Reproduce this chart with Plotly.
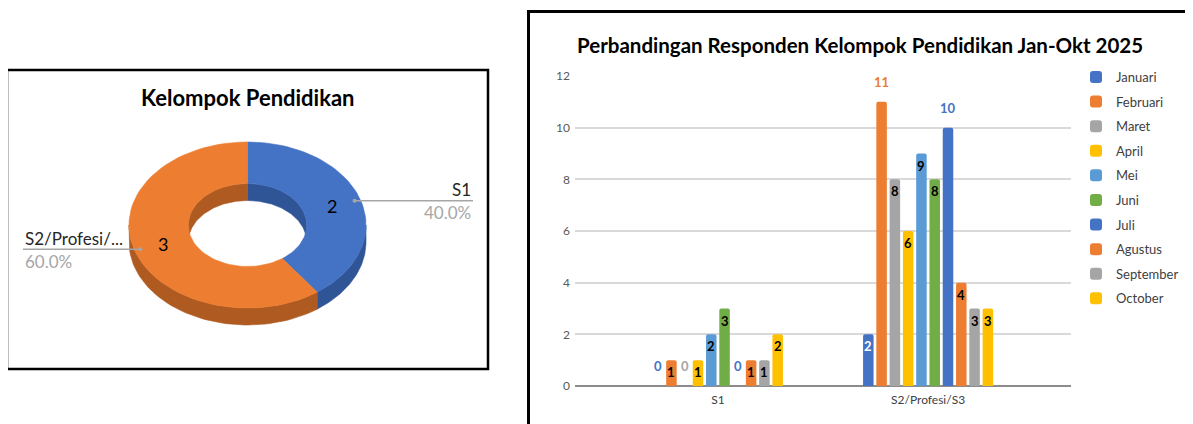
import math
import plotly.graph_objects as go

# ---- data ----
pie_labels = ["S1", "S2/Profesi/S3"]
pie_values = [2, 3]

categories = ["S1", "S2/Profesi/S3"]
months = ["Januari", "Februari", "Maret", "April", "Mei", "Juni",
          "Juli", "Agustus", "September", "October"]
s1_counts = [0, 1, 0, 1, 2, 3, 0, 1, 1, 2]
s2_counts = [2, 11, 8, 6, 9, 8, 10, 4, 3, 3]

# ---- style ----
month_colors = ["#4472C4", "#ED7D31", "#A5A5A5", "#FFC000", "#5B9BD5",
                "#70AD47", "#4472C4", "#ED7D31", "#A5A5A5", "#FFC000"]
pie_colors = ["#4472C4", "#ED7D31"]
pie_side_colors = ["#2F5597", "#AE5A21"]

W, H = 1193, 424
OFF = 8  # page body margin, layout below is given in screen pixels
FONT = "Lato"

# donut geometry (screen pixels), drawn as a tilted 3D ring
CX, CY = 247.5, 225
RX, RY = 118.5, 83
HOLE = 0.5
DEPTH = 17


def px_x(p):
    return (p - OFF) / W


def px_y(p):
    return 1 - (p - OFF) / H


def arc(a0, a1, r, dy=0, n=60):
    xs, ys = [], []
    for k in range(n + 1):
        a = math.radians(a0 + (a1 - a0) * k / n)
        xs.append(CX + r * RX * math.sin(a))
        ys.append(CY - r * RY * math.cos(a) + dy)
    return xs, ys


def clip(a0, a1, intervals):
    out = []
    for lo, hi in intervals:
        s, e = max(a0, lo), min(a1, hi)
        if e > s:
            out.append((s, e))
    return out


fig = go.Figure()

total = sum(pie_values)
bounds = []
start = 0.0
for v in pie_values:
    end = start + 360.0 * v / total
    bounds.append((start, end))
    start = end


def poly(xs, ys, color):
    fig.add_trace(go.Scatter(
        x=xs, y=ys, mode="lines", fill="toself", fillcolor=color,
        line=dict(width=0.6, color=color), hoverinfo="skip",
        showlegend=False, xaxis="x2", yaxis="y2"))


# side walls first (outer front wall, inner back wall)
for (a0, a1), col in zip(bounds, pie_side_colors):
    for lo, hi in clip(a0, a1, [(90, 270)]):
        xs, ys = arc(lo, hi, 1)
        xb, yb = arc(hi, lo, 1, DEPTH)
        poly(xs + xb + [xs[0]], ys + yb + [ys[0]], col)
    for lo, hi in clip(a0, a1, [(-90, 90), (270, 450)]):
        xs, ys = arc(lo, hi, HOLE)
        xb, yb = arc(hi, lo, HOLE, DEPTH)
        poly(xs + xb + [xs[0]], ys + yb + [ys[0]], col)

# top face
for (a0, a1), col in zip(bounds, pie_colors):
    xo, yo = arc(a0, a1, 1)
    xi, yi = arc(a1, a0, HOLE)
    poly(xo + xi + [xo[0]], yo + yi + [yo[0]], col)

annotations = []
shapes = []

for (a0, a1), lab, v in zip(bounds, pie_labels, pie_values):
    mid = math.radians((a0 + a1) / 2)
    r_mid = (1 + HOLE) / 2
    annotations.append(dict(
        x=CX + r_mid * RX * math.sin(mid), y=CY - r_mid * RY * math.cos(mid),
        xref="x2", yref="y2", text=str(v), showarrow=False,
        font=dict(family=FONT, size=18, color="#000000")))
    dx = CX + 0.95 * RX * math.sin(mid)
    dy = CY - 0.95 * RY * math.cos(mid)
    right = math.sin(mid) > 0
    ex = 473 if right else 23
    shapes.append(dict(type="line", xref="x2", yref="y2", x0=dx, y0=dy,
                       x1=ex, y1=dy, line=dict(color="#A6A6A6", width=1.5)))
    fig.add_trace(go.Scatter(x=[dx], y=[dy], mode="markers",
                             marker=dict(size=4, color="#A6A6A6"),
                             hoverinfo="skip", showlegend=False,
                             xaxis="x2", yaxis="y2"))
    name = lab if len(lab) <= 10 else lab[:11] + "..."
    anchor = "right" if right else "left"
    annotations.append(dict(x=ex, y=dy - 11, xref="x2", yref="y2", text=name,
                            showarrow=False, xanchor=anchor,
                            font=dict(family=FONT, size=17, color="#262626")))
    annotations.append(dict(x=ex, y=dy + 12, xref="x2", yref="y2",
                            text=f"{v / total * 100:.1f}%", showarrow=False,
                            xanchor=anchor,
                            font=dict(family=FONT, size=17, color="#A6A6A6")))

annotations.append(dict(x=248, y=97, xref="x2", yref="y2",
                        text="<b>Kelompok Pendidikan</b>", showarrow=False,
                        font=dict(family=FONT, size=22, color="#000000")))

# panel borders
shapes.append(dict(type="rect", xref="x2", yref="y2", x0=7, y0=70, x1=488,
                   y1=369, line=dict(color="#000000", width=2.5)))
shapes.append(dict(type="rect", xref="x2", yref="y2", x0=528.5, y0=11.5,
                   x1=1220, y1=450, line=dict(color="#000000", width=3)))

# ---- grouped bars ----
n = len(months)
pitch = 0.632 / n
bar_w = 0.05
for i, m in enumerate(months):
    center = (i - (n - 1) / 2) * pitch
    vals = [s1_counts[i], s2_counts[i]]
    fig.add_trace(go.Bar(
        x=[0, 1], y=vals, name=m, legendgroup=m,
        width=bar_w, offset=center - bar_w / 2,
        marker=dict(color=month_colors[i], cornerradius=2, line=dict(width=0)),
        hoverinfo="skip"))
    for c, v in enumerate(vals):
        if v == 0 or v >= 10:
            col, shift = month_colors[i], 20
        else:
            col = "#FFFFFF" if month_colors[i] == "#4472C4" else "#000000"
            shift = -12
        annotations.append(dict(
            x=c + center, y=v, xref="x", yref="y", yshift=shift,
            text=f"<b>{v}</b>", showarrow=False,
            font=dict(family=FONT, size=13, color=col)))

annotations.append(dict(
    x=860, y=45, xref="x2", yref="y2",
    text="<b>Perbandingan Responden Kelompok Pendidikan Jan-Okt 2025</b>",
    showarrow=False, font=dict(family=FONT, size=20.5, color="#000000")))

fig.update_layout(
    width=W, height=H,
    margin=dict(l=0, r=0, t=0, b=0, autoexpand=False),
    paper_bgcolor="#FFFFFF", plot_bgcolor="rgba(0,0,0,0)",
    barmode="overlay",
    showlegend=True,
    legend=dict(x=px_x(1076), y=px_y(62), xanchor="left", yanchor="top",
                font=dict(family=FONT, size=13, color="#404040"),
                tracegroupgap=4.7, bgcolor="rgba(0,0,0,0)"),
    xaxis=dict(domain=[px_x(575), px_x(1071)], range=[-0.68, 1.68],
               tickvals=[0, 1], ticktext=categories, showgrid=False,
               zeroline=False, showline=False, ticks="", automargin=False,
               ticklabelstandoff=5,
               tickfont=dict(family=FONT, size=12, color="#404040"),
               fixedrange=True),
    yaxis=dict(domain=[px_y(386), px_y(76)], range=[0, 12], dtick=2,
               showgrid=True, gridcolor="#D9D9D9", gridwidth=1.5,
               zeroline=True, zerolinecolor="#8C8C8C", zerolinewidth=1.5,
               showline=False, ticks="", automargin=False,
               ticklabelstandoff=4,
               tickfont=dict(family=FONT, size=12, color="#595959"),
               fixedrange=True),
    xaxis2=dict(domain=[0, 1], range=[OFF, W + OFF], visible=False,
                showticklabels=False, automargin=False, anchor="y2",
                fixedrange=True),
    yaxis2=dict(domain=[0, 1], range=[H + OFF, OFF], visible=False,
                showticklabels=False, automargin=False, anchor="x2",
                fixedrange=True),
    annotations=annotations,
    shapes=shapes,
    font=dict(family=FONT),
)

fig.write_html("out.html")
